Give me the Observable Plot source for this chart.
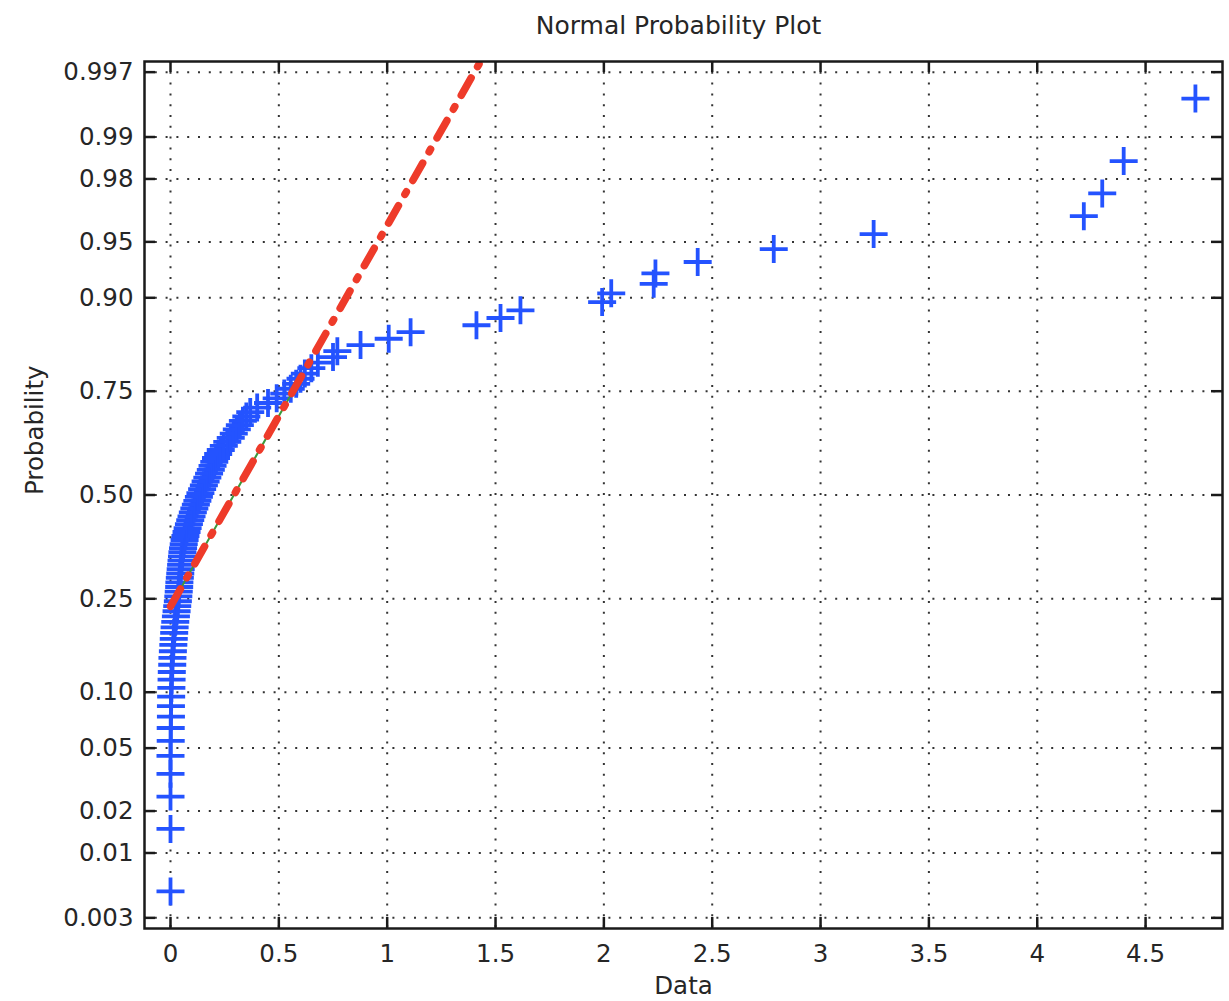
<!DOCTYPE html>
<html>
<head>
<meta charset="utf-8">
<script src="https://cdn.jsdelivr.net/npm/d3@7"></script>
<script src="https://cdn.jsdelivr.net/npm/@observablehq/plot@0.6"></script>
<style>
  html, body { margin: 0; padding: 0; background: #fff; }
  #chart svg { display: block; }
</style>
</head>
<body>
<div id="chart"></div>
<script>
// ---- Data (sorted sample values) ----
const dataValues = [
  0.000, 0.000, 0.000, 0.000, 0.000, 0.001, 0.001, 0.002, 0.002, 0.003,
  0.004, 0.005, 0.006, 0.008, 0.009, 0.011, 0.013, 0.015, 0.017, 0.019,
  0.022, 0.025, 0.028, 0.031, 0.034, 0.036, 0.038, 0.040, 0.041, 0.043,
  0.045, 0.047, 0.049, 0.051, 0.053, 0.055, 0.058, 0.061, 0.065, 0.069,
  0.074, 0.079, 0.085, 0.091, 0.097, 0.103, 0.110, 0.117, 0.124, 0.131,
  0.138, 0.146, 0.154, 0.162, 0.170, 0.178, 0.186, 0.194, 0.202, 0.210,
  0.220, 0.232, 0.246, 0.262, 0.278, 0.292, 0.306, 0.320, 0.334, 0.350,
  0.368, 0.400, 0.450, 0.490, 0.525, 0.555, 0.580, 0.600, 0.620, 0.650,
  0.680, 0.750, 0.770, 0.877, 1.007, 1.108, 1.412, 1.523, 1.615, 1.992,
  2.034, 2.230, 2.238, 2.433, 2.784, 3.245, 4.215, 4.300, 4.399, 4.730
];

// Reference-line quartile anchors (x at p = 0.25 and p = 0.75)
const fitQuartileX = [0.02, 0.565];
const fitQuartileP = [0.25, 0.75];

// Axis ticks
const xTicks = [0, 0.5, 1, 1.5, 2, 2.5, 3, 3.5, 4, 4.5];
const xTickLabels = ["0", "0.5", "1", "1.5", "2", "2.5", "3", "3.5", "4", "4.5"];
const probTicks = [0.003, 0.01, 0.02, 0.05, 0.10, 0.25, 0.50, 0.75, 0.90, 0.95, 0.98, 0.99, 0.997];
const probTickLabels = ["0.003", "0.01", "0.02", "0.05", "0.10", "0.25", "0.50", "0.75", "0.90", "0.95", "0.98", "0.99", "0.997"];

const titleText = "Normal Probability Plot";
const xLabelText = "Data";
const yLabelText = "Probability";

// ---- Normal quantile (probability-axis transform) ----
function qnorm(p) {
  const a = [-3.969683028665376e+01, 2.209460984245205e+02, -2.759285104469687e+02, 1.383577518672690e+02, -3.066479806614716e+01, 2.506628277459239e+00];
  const b = [-5.447609879822406e+01, 1.615858368580409e+02, -1.556989798598866e+02, 6.680131188771972e+01, -1.328068155288572e+01];
  const c = [-7.784894002430293e-03, -3.223964580411365e-01, -2.400758277161838e+00, -2.549732539343734e+00, 4.374664141464968e+00, 2.938163982698783e+00];
  const d = [7.784695709041462e-03, 3.224671290700398e-01, 2.445134137142996e+00, 3.754408661907416e+00];
  const pl = 0.02425, ph = 1 - pl;
  let q, r;
  if (p < pl) {
    q = Math.sqrt(-2 * Math.log(p));
    return (((((c[0]*q+c[1])*q+c[2])*q+c[3])*q+c[4])*q+c[5]) / ((((d[0]*q+d[1])*q+d[2])*q+d[3])*q+1);
  } else if (p <= ph) {
    q = p - 0.5; r = q * q;
    return (((((a[0]*r+a[1])*r+a[2])*r+a[3])*r+a[4])*r+a[5])*q / (((((b[0]*r+b[1])*r+b[2])*r+b[3])*r+b[4])*r+1);
  } else {
    q = Math.sqrt(-2 * Math.log(1 - p));
    return -(((((c[0]*q+c[1])*q+c[2])*q+c[3])*q+c[4])*q+c[5]) / ((((d[0]*q+d[1])*q+d[2])*q+d[3])*q+1);
  }
}

const n = dataValues.length;
const points = dataValues.map((x, i) => ({x, z: qnorm((i + 0.5) / n)}));
const zTicks = probTicks.map(qnorm);

// Quartile line and its extension over the data range
const zq1 = qnorm(fitQuartileP[0]), zq3 = qnorm(fitQuartileP[1]);
const slope = (zq3 - zq1) / (fitQuartileX[1] - fitQuartileX[0]);
const lineAt = x => ({x, z: zq1 + (x - fitQuartileX[0]) * slope});
const quartileLine = fitQuartileX.map(lineAt);
const extendedLine = [d3.min(dataValues), d3.max(dataValues)].map(lineAt);

// ---- Layout ----
const W = 1229, H = 1001;
const mTop = 61, mBottom = 73, mLeft = 144, mRight = 7;
const frameH = H - mTop - mBottom, frameW = W - mLeft - mRight;
const zLim = 2.817;

const plusSymbol = {
  draw(ctx, size) {
    const r = Math.sqrt(size / Math.PI);
    ctx.moveTo(-r, 0); ctx.lineTo(r, 0);
    ctx.moveTo(0, -r); ctx.lineTo(0, r);
  }
};

const ink = "#262626";
const gridStyle = {stroke: "#333", strokeOpacity: 1, strokeWidth: 2, strokeDasharray: "2 8.8"};
const tickLen = 11;
const font = "DejaVu Sans";

const chart = Plot.plot({
  width: W, height: H,
  marginTop: mTop, marginBottom: mBottom, marginLeft: mLeft, marginRight: mRight,
  style: {fontFamily: font, fontSize: "24.5px", color: ink, background: "#fff"},
  x: {domain: [-0.12, 4.855]},
  y: {domain: [-zLim, zLim]},
  marks: [
    Plot.gridX(xTicks, gridStyle),
    Plot.gridY(zTicks, gridStyle),
    Plot.dot(points, {x: "x", y: "z", symbol: plusSymbol, r: 14, stroke: "#2453ff", strokeWidth: 3.8, fill: "none"}),
    Plot.line(quartileLine, {x: "x", y: "z", stroke: "#3c9a3c", strokeWidth: 2, clip: true}),
    Plot.line(extendedLine, {x: "x", y: "z", stroke: "#ee3b2a", strokeWidth: 7.5, strokeDasharray: "20 13 3 13", clip: true}),
    Plot.frame({stroke: "#1a1a1a", strokeWidth: 2.5}),
    Plot.tickX(xTicks, {x: d => d, insetTop: frameH - tickLen, stroke: "#1a1a1a", strokeWidth: 2.5}),
    Plot.tickX(xTicks, {x: d => d, insetBottom: frameH - tickLen, stroke: "#1a1a1a", strokeWidth: 2.5}),
    Plot.tickY(zTicks, {y: d => d, insetRight: frameW - tickLen, stroke: "#1a1a1a", strokeWidth: 2.5}),
    Plot.tickY(zTicks, {y: d => d, insetLeft: frameW - tickLen, stroke: "#1a1a1a", strokeWidth: 2.5}),
    Plot.axisX(xTicks, {tickSize: 0, tickPadding: 16, tickFormat: d => xTickLabels[xTicks.indexOf(d)], label: null, fontSize: 24.5, fill: ink}),
    Plot.axisY(zTicks, {tickSize: 0, tickPadding: 11, tickFormat: d => probTickLabels[zTicks.indexOf(d)], label: null, fontSize: 24.5, fill: ink}),
    Plot.text([titleText], {text: d => d, frameAnchor: "top", dy: -36, dx: -5, lineAnchor: "middle", fontSize: 25, fill: ink}),
    Plot.text([xLabelText], {text: d => d, frameAnchor: "bottom", dy: 58, lineAnchor: "middle", fontSize: 24.5, fill: ink}),
    Plot.text([yLabelText], {text: d => d, frameAnchor: "left", dx: -109, rotate: -90, lineAnchor: "middle", fontSize: 24.5, fill: ink})
  ]
});

document.getElementById("chart").appendChild(chart);
</script>
</body>
</html>
